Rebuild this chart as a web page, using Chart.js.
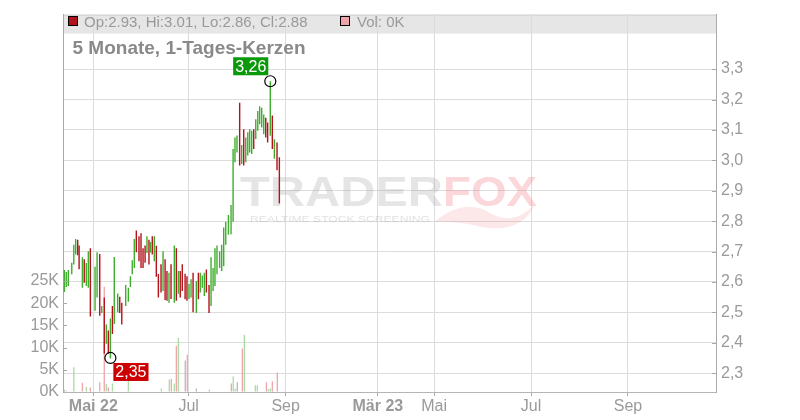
<!DOCTYPE html>
<html><head><meta charset="utf-8">
<script src="https://cdn.jsdelivr.net/npm/chart.js@4.4.0/dist/chart.umd.min.js"></script>
<style>html,body{margin:0;padding:0;background:#fff}#wrap{width:800px;height:420px}</style>
</head><body><div id="wrap"><canvas id="c" width="800" height="420"></canvas></div>
<script>
// Candle positions: days since 1 May 2022
const dayPos = [-18.5,-17.3,-16.0,-13.8,-12.5,-11.3,-10.0,-9.1,-7.0,-5.8,-4.5,-3.2,-1.9,1.1,2.4,4.1,5.4,7.0,8.3,9.6,10.9,12.2,13.4,15.6,16.9,18.2,20.7,22.4,23.7,24.9,26.2,27.5,29.2,30.5,31.8,33.1,34.3,35.6,36.5,37.7,39.0,40.3,41.6,43.3,44.6,45.9,47.1,48.4,49.7,51.8,53.1,54.4,55.6,56.9,58.7,59.9,61.2,62.5,63.8,65.9,67.2,68.4,69.7,71.0,72.3,74.0,75.3,76.6,77.8,79.1,80.8,82.1,83.4,84.7,86.4,88.1,89.4,90.6,91.9,93.6,94.9,96.2,97.5,98.8,100.0,101.3,102.6,103.9,105.2,106.4,107.7,109.0,110.3,111.5,113.2,114.5,115.8,117.5,119.0];
const highs = [2.639,2.633,2.639,2.663,2.722,2.741,2.739,2.720,2.681,2.675,2.662,2.701,2.711,2.650,2.698,2.692,2.521,2.549,2.460,2.440,2.480,2.521,2.682,2.562,2.551,2.532,2.590,2.581,2.619,2.671,2.741,2.769,2.750,2.760,2.711,2.720,2.750,2.739,2.731,2.750,2.750,2.719,2.626,2.658,2.701,2.675,2.636,2.630,2.658,2.720,2.711,2.636,2.636,2.658,2.627,2.619,2.593,2.609,2.630,2.603,2.630,2.630,2.621,2.630,2.641,2.590,2.681,2.646,2.711,2.720,2.701,2.722,2.779,2.798,2.820,2.853,3.037,3.075,3.082,3.189,3.050,3.102,3.075,3.092,3.102,3.097,3.102,3.135,3.162,3.178,3.173,3.151,3.140,3.124,3.260,3.147,3.069,3.059,3.010];
const lows = [2.567,2.583,2.587,2.625,2.657,2.690,2.688,2.642,2.581,2.597,2.587,2.581,2.486,2.505,2.549,2.489,2.498,2.364,2.397,2.364,2.348,2.429,2.462,2.500,2.498,2.460,2.521,2.535,2.583,2.625,2.646,2.698,2.668,2.646,2.646,2.663,2.695,2.657,2.697,2.690,2.668,2.617,2.549,2.565,2.570,2.541,2.538,2.532,2.544,2.532,2.538,2.561,2.549,2.570,2.543,2.538,2.544,2.549,2.500,2.498,2.543,2.565,2.581,2.554,2.565,2.498,2.521,2.570,2.587,2.625,2.646,2.636,2.652,2.722,2.755,2.757,2.798,2.994,3.026,2.983,2.988,2.983,2.994,3.016,3.026,3.021,3.037,3.070,3.097,3.119,3.108,3.086,3.075,3.059,3.081,3.037,3.005,2.967,2.858];
const upDay = [1,1,1,1,1,1,0,0,1,0,1,1,0,1,1,0,1,0,1,0,1,0,1,1,0,0,1,1,1,1,1,0,0,0,0,0,1,0,1,0,1,0,0,0,1,0,0,1,0,1,0,1,0,0,0,0,1,1,0,1,0,1,1,1,0,0,1,1,1,1,1,1,1,1,1,1,1,1,1,0,1,0,1,1,1,1,0,1,1,1,1,1,0,0,1,0,1,0,0];

// Volume (thousands)
const volDay = [-18.5,-17.3,-12.5,-7.0,-4.5,-1.9,4.1,7.0,8.3,9.6,12.2,22.4,43.5,48.6,49.9,51.8,53.1,54.4,58.8,60.1,65.9,74.2,88.3,89.5,90.8,92.1,95.3,96.6,103.6,104.9,110.7,111.9,113.2,114.5,117.7];
const volK = [0.5,0.3,5.6,2.1,1.2,1.0,2.2,23.7,1.8,1.0,1.9,3.6,0.8,2.8,3.0,1.9,10.4,12.2,7.1,8.4,0.8,0.5,1.9,3.5,0.8,2.2,9.8,12.9,1.5,1.5,2.2,0.6,0.8,2.4,4.4];
const volKind = ['n','n','g','r','g','r','r','r','g','r','g','g','g','g','r','g','r','g','n','r','n','r','r','g','g','n','r','g','g','g','r','g','g','r','r'];

const priceTicks = [2.3,2.4,2.5,2.6,2.7,2.8,2.9,3.0,3.1,3.2,3.3];
const volTicks = [0,5,10,15,20,25];
const xTickPos = [0,61,123,182,218,280,342];
const xTickLabels = ['Mai 22','Jul','Sep','Mär 23','Mai','Jul','Sep'];
const xTickBold = [true,false,false,true,false,false,false];

const markDay = [113.2, 10.9];
const markPrice = [3.26, 2.35];
const markText = ['3,26','2,35'];

const headerText = 'Op:2.93, Hi:3.01, Lo:2.86, Cl:2.88';
const volText = 'Vol: 0K';
const titleText = '5 Monate, 1-Tages-Kerzen';

const FAM = '"Liberation Sans", Arial, Helvetica, sans-serif';
Chart.defaults.font.family = FAM;

const GREEN = '#3fae2e', RED = '#b3121a';
const volColors = {g:'#a9dca2', r:'#f1a3ab', n:'#b8b8b8'};

const candleData = dayPos.map((d,i)=>({x:d, y:[lows[i], highs[i]]}));
const volData = volDay.map((d,i)=>({x:d, y:volK[i]}));
const markData = markDay.map((d,i)=>({x:d, y:markPrice[i]}));

const deco = {
  id:'deco',
  beforeDraw(chart){
    const ctx = chart.ctx, a = chart.chartArea;
    ctx.save();
    ctx.fillStyle = '#e6e6e6';
    ctx.fillRect(a.left, a.top, a.right - a.left, 19);
    ctx.strokeStyle = '#cfcfcf'; ctx.lineWidth = 1;
    ctx.beginPath(); ctx.moveTo(a.left, a.top + 0.5); ctx.lineTo(a.right, a.top + 0.5); ctx.stroke();
    ctx.restore();
  },
  beforeDatasetsDraw(chart){
    const ctx = chart.ctx;
    ctx.save();
    // watermark
    ctx.font = 'bold 43px ' + FAM;
    ctx.textBaseline = 'alphabetic';
    let w = ctx.measureText('TRADER').width;
    ctx.save(); ctx.translate(240, 206); ctx.scale(203 / w, 1);
    ctx.fillStyle = 'rgba(170,170,170,0.3)'; ctx.fillText('TRADER', 0, 0); ctx.restore();
    w = ctx.measureText('FOX').width;
    ctx.save(); ctx.translate(443, 206); ctx.scale(94 / w, 1);
    ctx.fillStyle = 'rgba(240,110,120,0.28)'; ctx.fillText('FOX', 0, 0); ctx.restore();
    // fox tail swoosh
    ctx.fillStyle = 'rgba(240,110,120,0.16)';
    ctx.beginPath();
    ctx.moveTo(434, 222);
    ctx.quadraticCurveTo(465, 196, 492, 214);
    ctx.quadraticCurveTo(515, 226, 535, 204);
    ctx.quadraticCurveTo(522, 234, 482, 227);
    ctx.quadraticCurveTo(458, 221, 434, 222);
    ctx.fill();
    ctx.font = '9px ' + FAM;
    ctx.fillStyle = 'rgba(170,170,170,0.35)';
    const tag = 'REALTIME STOCK SCREENING';
    w = ctx.measureText(tag).width;
    ctx.save(); ctx.translate(250, 222); ctx.scale(180 / w, 1); ctx.fillText(tag, 0, 0); ctx.restore();
    ctx.restore();
  },
  afterDraw(chart){
    const ctx = chart.ctx, a = chart.chartArea;
    ctx.save();
    // inner tick marks
    ctx.strokeStyle = '#a8a8a8'; ctx.lineWidth = 1;
    const yp = chart.scales.yPrice, yv = chart.scales.yVol;
    priceTicks.forEach(v => { const y = Math.round(yp.getPixelForValue(v)) + 0.5; ctx.beginPath(); ctx.moveTo(a.right - 4, y); ctx.lineTo(a.right, y); ctx.stroke(); });
    volTicks.forEach(v => { if (!v) return; const y = Math.round(yv.getPixelForValue(v)) + 0.5; ctx.beginPath(); ctx.moveTo(a.left, y); ctx.lineTo(a.left + 4, y); ctx.stroke(); });
    // header texts
    ctx.fillStyle = '#b3121a'; ctx.fillRect(68.5, 16.5, 9, 9);
    ctx.strokeStyle = '#000'; ctx.strokeRect(68.5, 16.5, 9, 9);
    ctx.fillStyle = '#f0a3ab'; ctx.fillRect(340.5, 16.5, 9, 9);
    ctx.strokeRect(340.5, 16.5, 9, 9);
    ctx.font = '15px ' + FAM; ctx.fillStyle = '#999'; ctx.textBaseline = 'alphabetic';
    ctx.fillText(headerText, 84, 26.5);
    ctx.fillText(volText, 357, 26.5);
    ctx.font = 'bold 19px ' + FAM; ctx.fillStyle = '#898989';
    ctx.fillText(titleText, 72.5, 54.3);
    // extreme labels
    const meta = chart.getDatasetMeta(0);
    ctx.font = '16px ' + FAM; ctx.textAlign = 'center'; ctx.textBaseline = 'middle';
    meta.data.forEach((pt, i) => {
      const tw = ctx.measureText(markText[i]).width + 4, th = 18;
      let bx, by;
      if (i === 0) { bx = pt.x - 2 - tw; by = pt.y - 6 - th; ctx.fillStyle = '#0a990a'; }
      else { bx = pt.x + 3; by = pt.y + 5; ctx.fillStyle = '#cc0000'; }
      ctx.fillRect(bx, by, tw, th);
      ctx.fillStyle = '#fff';
      ctx.fillText(markText[i], bx + tw / 2, by + th / 2 + 1);
    });
    ctx.restore();
  }
};

new Chart(document.getElementById('c'), {
  type: 'bar',
  data: { datasets: [
    { type:'scatter', data: markData, yAxisID:'yPrice', xAxisID:'x', pointRadius:5.5, pointBorderWidth:1.2,
      borderColor:'#000', pointBorderColor:'#000', backgroundColor:'rgba(0,0,0,0)', pointBackgroundColor:'rgba(0,0,0,0)' },
    { type:'bar', data: candleData, yAxisID:'yPrice', xAxisID:'x', stack:'same', barThickness:1.4, inflateAmount:0,
      borderWidth:0, backgroundColor: upDay.map(u => u ? GREEN : RED) },
    { type:'bar', data: volData, yAxisID:'yVol', xAxisID:'x', stack:'same', barThickness:1.3, inflateAmount:0,
      borderWidth:0, backgroundColor: volKind.map(k => volColors[k]) }
  ]},
  options: {
    responsive:false, animation:false, devicePixelRatio:1, events:[],
    layout:{ padding:{ top:11, left:0, right:0, bottom:0 } },
    plugins:{ legend:{display:false}, tooltip:{enabled:false} },
    scales: {
      x: { type:'linear', min:-19.4, max:398.3, offset:false,
        afterBuildTicks: s => { s.ticks = xTickPos.map(v => ({value:v})); },
        afterFit: s => { s.height = 28; },
        ticks:{ autoSkip:false, maxRotation:0, color:'#9a9a9a', padding:1,
          font: c => ({ family:FAM, size:16, weight: xTickBold[c.index] ? 'bold' : 'normal' }),
          callback: (v, i) => xTickLabels[i] },
        grid:{ color:'#dcdcdc', tickColor:'#aaa', tickLength:4, offset:false },
        border:{ color:'#b5b5b5' } },
      yPrice: { type:'linear', position:'right', min:2.2381, max:3.4792, stacked:false,
        afterBuildTicks: s => { s.ticks = priceTicks.map(v => ({value:v})); },
        afterFit: s => { s.width = 84; },
        ticks:{ color:'#9a9a9a', padding:5, font:{size:16}, callback: v => Number(v).toFixed(1).replace('.', ',') },
        grid:{ color:'#dcdcdc', drawTicks:false },
        border:{ color:'#aaa' } },
      yVol: { type:'linear', position:'left', min:0, max:85, stacked:false,
        afterBuildTicks: s => { s.ticks = volTicks.map(v => ({value:v})); },
        afterFit: s => { s.width = 63; },
        ticks:{ color:'#9a9a9a', padding:4, font:{size:16}, callback: v => v + 'K' },
        grid:{ drawOnChartArea:false, drawTicks:false },
        border:{ color:'#aaa' } }
    }
  },
  plugins:[deco]
});
</script>
</body></html>
